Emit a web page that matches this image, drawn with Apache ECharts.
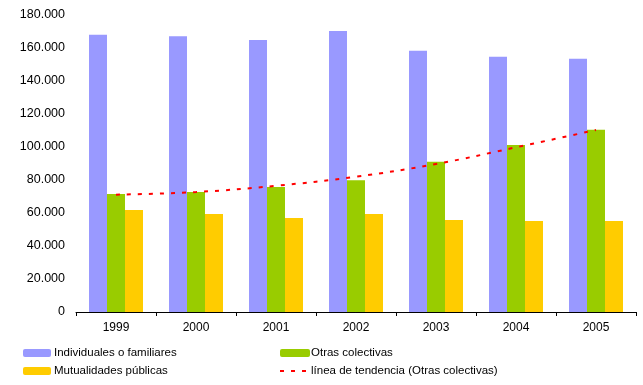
<!DOCTYPE html>
<html>
<head>
<meta charset="utf-8">
<script src="https://cdn.jsdelivr.net/npm/echarts@6/dist/echarts.min.js"></script>
<style>html,body{margin:0;padding:0;background:#fff}#c{width:643px;height:385px}</style>
</head>
<body>
<div id="c"></div>
<script>
const years = ['1999','2000','2001','2002','2003','2004','2005'];
const individuales = [168000, 167100, 164900, 170300, 158400, 154700, 153500];
const otrasColectivas = [71500, 72700, 75800, 79800, 91100, 101200, 110500];
const mutualidades = [61800, 59400, 57000, 59400, 55800, 55200, 55200];
const tendencia = [71100, 72700, 76500, 82000, 89700, 99800, 110300];
const seriesNames = ['Individuales o familiares', 'Otras colectivas', 'Mutualidades públicas', 'línea de tendencia (Otras colectivas)'];

const font = 'Liberation Sans';
const chart = echarts.init(document.getElementById('c'), null, {renderer: 'canvas'});
const fmt = v => String(v).replace(/\B(?=(\d{3})+(?!\d))/g, '.');
chart.setOption({
  animation: false,
  textStyle: {fontFamily: font},
  grid: {left: 76, right: 7, top: 15, bottom: 73},
  legend: [
    {left: 23, top: 347, padding: 0, orient: 'vertical', itemWidth: 28, itemHeight: 8, itemGap: 6,
     data: [seriesNames[0], seriesNames[2]],
     textStyle: {fontFamily: font, fontSize: 11.5, color: '#000', padding: [0,0,0,-2]}},
    {left: 279, top: 347, padding: 0, orient: 'vertical', itemWidth: 30, itemHeight: 8, itemGap: 6,
     data: [seriesNames[1], {name: seriesNames[3], itemStyle: {opacity: 0}}],
     textStyle: {fontFamily: font, fontSize: 11.5, color: '#000', padding: [0,0,0,-4]}}
  ],
  xAxis: {
    type: 'category', data: years,
    axisLine: {lineStyle: {color: '#000', width: 1}},
    axisTick: {show: true, length: 4, lineStyle: {color: '#000'}},
    axisLabel: {color: '#000', fontSize: 12, fontFamily: font, margin: 10}
  },
  yAxis: {
    type: 'value', min: 0, max: 180000, interval: 20000,
    axisLine: {show: false}, axisTick: {show: false},
    splitLine: {show: false},
    axisLabel: {color: '#000', fontSize: 12.5, fontFamily: font, margin: 11, formatter: fmt}
  },
  series: [
    {name: seriesNames[0], type: 'bar', data: individuales, barWidth: 18, barGap: '0%', itemStyle: {color: '#9999FF'}},
    {name: seriesNames[1], type: 'bar', data: otrasColectivas, barWidth: 18, barGap: '0%', itemStyle: {color: '#99CC00'}},
    {name: seriesNames[2], type: 'bar', data: mutualidades, barWidth: 18, barGap: '0%', itemStyle: {color: '#FFCC00'}},
    {name: seriesNames[3], type: 'line', data: tendencia, smooth: 0.4, symbol: 'none', showSymbol: false, z: 5,
     itemStyle: {color: '#FF0000'},
     lineStyle: {color: '#FF0000', width: 2, type: [4, 7]}}
  ]
});
</script>
</body>
</html>
